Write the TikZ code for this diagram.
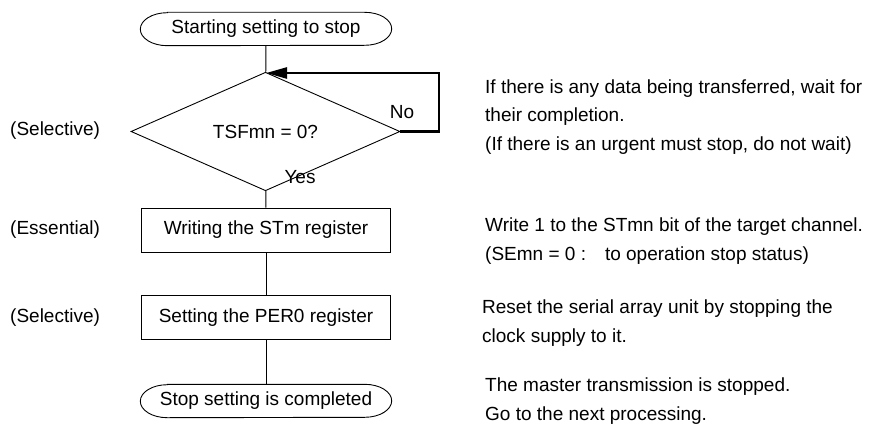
\documentclass[tikz,border=0pt]{standalone}
\usepackage{fontspec}
\setmainfont{Liberation Sans}
\usepackage{xcolor,tikz}
\usetikzlibrary{arrows.meta,shapes.geometric}

\begin{document}
\begin{tikzpicture}[x=1pt,y=1pt,font=\fontsize{19}{28.5}\selectfont,
  term/.style={rectangle,minimum width=251pt,minimum height=33pt,inner sep=0pt},
  proc/.style={draw,rectangle,minimum width=249pt,minimum height=44pt,inner sep=0pt,line width=0.9pt},
  dec/.style={draw,diamond,minimum width=269pt,minimum height=67pt,inner sep=0pt,line width=0.9pt},
  flow/.style={line width=0.9pt},
  back/.style={line width=2.6pt,-{Triangle[length=21pt,width=11pt]}},
  note/.style={anchor=west,align=left,inner sep=0pt}]
  \useasboundingbox (0,0) rectangle (869,-425);
  % flow
  \node[term] (start) at (266,-29) {Starting setting to stop};
  \node[dec] (check) at (265.5,-131.5) {TSFmn = 0?};
  \node[proc] (wrst) at (266,-230) {Writing the STm register};
  \node[proc] (wrper) at (266,-317.5) {Setting the PER0 register};
  \node[term] (done) at (266,-401) {Stop setting is completed};
  % terminator outlines with elliptic ends
  \foreach \n in {start,done}
    \draw[flow] ([xshift=27pt]\n.north west) -- ([xshift=-27pt]\n.north east)
      arc[start angle=90,end angle=-90,x radius=27pt,y radius=16.5pt]
      -- ([xshift=27pt]\n.south west)
      arc[start angle=270,end angle=90,x radius=27pt,y radius=16.5pt] -- cycle;
  \coordinate (join) at (266,-73);
  \coordinate (turn) at (439,-73);
  \draw[flow] (start) -- (check);
  \draw[flow] (check) -- (wrst);
  \draw[flow] (wrst) -- (wrper);
  \draw[flow] (wrper) -- (done);
  \draw[back] (check.east) -| (turn) -- (join);
  \node (no) at (402,-112) {No};
  \node (yes) at (300,-177) {Yes};
  % left labels
  \foreach \y/\t/\n in {131/Selective/lsel, 230/Essential/less, 317.5/Selective/lper}
    \node[note] (\n) at (10,-\y) {(\t)};
  % notes
  \node[note] (nchk) at (485,-117) {If there is any data being transferred, wait for\\
    their completion.\\(If there is an urgent must stop, do not wait)};
  \node[note] (nst) at (485,-241) {Write 1 to the STmn bit of the target channel.\\
    (SEmn = 0 :\quad to operation stop status)};
  \node[note] (nper) at (482,-323) {Reset the serial array unit by stopping the\\clock supply to it.};
  \node[note] (ndone) at (485,-401) {The master transmission is stopped.\\Go to the next processing.};
\end{tikzpicture}
\end{document}
